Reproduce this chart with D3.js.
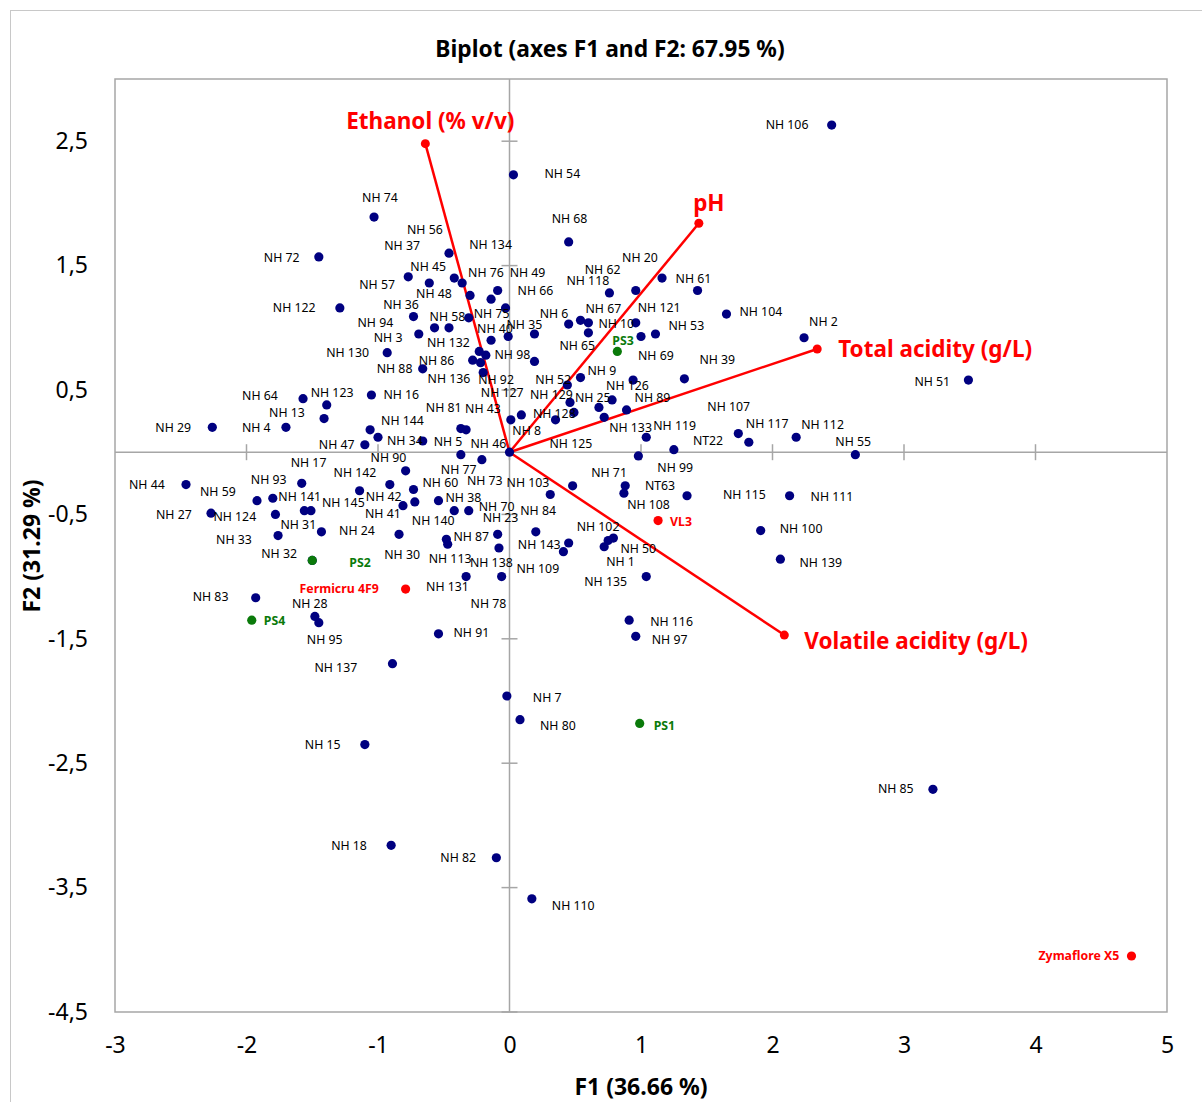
<!DOCTYPE html>
<html>
<head>
<meta charset="utf-8">
<script src="https://cdn.jsdelivr.net/npm/d3@7"></script>
<style>
  body { margin: 0; background: #fff; }
  svg { display: block; font-family: "Noto Sans", "DejaVu Sans", sans-serif; }
</style>
</head>
<body>
<script>
// observations: [name, F1, F2]
var observations = [
  ["NH 56", -0.46, 1.60], ["NH 57", -0.77, 1.41], ["NH 45", -0.61, 1.36], ["NH 37", -0.42, 1.40],
  ["NH 134", -0.36, 1.36], ["NH 48", -0.30, 1.26], ["NH 49", -0.09, 1.30], ["NH 76", -0.14, 1.23],
  ["NH 66", -0.03, 1.16], ["NH 94", -0.73, 1.09], ["NH 58", -0.57, 1.00], ["NH 132", -0.46, 1.00],
  ["NH 75", -0.31, 1.08], ["NH 3", -0.69, 0.95], ["NH 40", -0.14, 0.90], ["NH 36", -0.01, 0.93],
  ["NH 130", -0.93, 0.80], ["NH 86", -0.28, 0.74], ["NH 136", -0.22, 0.72], ["NH 88", -0.66, 0.67],
  ["NH 92", -0.20, 0.64], ["NH 29", -2.26, 0.20], ["NH 4", -1.70, 0.20], ["NH 64", -1.57, 0.43],
  ["NH 13", -1.41, 0.27], ["NH 123", -1.39, 0.38], ["NH 72", -1.45, 1.57], ["NH 122", -1.29, 1.16],
  ["NH 74", -1.03, 1.89], ["NH 16", -1.05, 0.46], ["NH 127", 0.01, 0.26], ["NH 144", -1.06, 0.18],
  ["NH 34", -1.00, 0.12], ["NH 81", -0.37, 0.19], ["NH 43", -0.33, 0.18], ["NH 47", -1.10, 0.06],
  ["NH 5", -0.66, 0.09], ["NH 46", 0.00, 0.00], ["NH 77", -0.37, -0.02], ["NH 73", -0.21, -0.06],
  ["NH 54", 0.03, 2.23], ["NH 68", 0.45, 1.69], ["NH 20", 1.16, 1.40], ["NH 61", 1.43, 1.30],
  ["NH 118", 0.76, 1.28], ["NH 62", 0.96, 1.30], ["NH 104", 1.65, 1.11], ["NH 6", 0.45, 1.03],
  ["NH 67", 0.54, 1.06], ["NH 10", 0.60, 1.04], ["NH 65", 0.60, 0.96], ["NH 121", 0.96, 1.04],
  ["NH 69", 1.00, 0.93], ["NH 53", 1.11, 0.95], ["NH 35", 0.19, 0.95], ["NH 98", 0.19, 0.73],
  ["NH 9", 0.54, 0.60], ["NH 39", 1.33, 0.59], ["NH 126", 0.94, 0.58], ["NH 52", 0.44, 0.54],
  ["NH 129", 0.46, 0.40], ["NH 128", 0.49, 0.32], ["NH 25", 0.68, 0.36], ["NH 133", 0.72, 0.28],
  ["NH 89", 0.89, 0.34], ["NH 125", 0.35, 0.26], ["NH 8", 0.09, 0.30], ["NH 119", 1.04, 0.12],
  ["NT22", 1.25, 0.02], ["NH 99", 0.98, -0.03], ["NH 106", 2.45, 2.63], ["NH 2", 2.24, 0.92],
  ["NH 51", 3.49, 0.58], ["NH 107", 1.74, 0.15], ["NH 117", 1.82, 0.08], ["NH 112", 2.18, 0.12],
  ["NH 55", 2.63, -0.02], ["NH 44", -2.46, -0.26], ["NH 59", -1.92, -0.39], ["NH 93", -1.80, -0.37],
  ["NH 17", -1.58, -0.25], ["NH 27", -2.27, -0.49], ["NH 124", -1.78, -0.50], ["NH 141", -1.56, -0.47],
  ["NH 145", -1.51, -0.47], ["NH 33", -1.76, -0.67], ["NH 31", -1.43, -0.64], ["NH 32", -1.50, -0.87],
  ["NH 83", -1.93, -1.17], ["NH 28", -1.48, -1.32], ["NH 95", -1.45, -1.37], ["NH 90", -0.79, -0.15],
  ["NH 42", -0.91, -0.26], ["NH 142", -1.14, -0.31], ["NH 60", -0.73, -0.30], ["NH 38", -0.54, -0.39],
  ["NH 41", -0.81, -0.43], ["NH 140", -0.72, -0.40], ["NH 30", -0.42, -0.47], ["NH 70", -0.31, -0.47],
  ["NH 24", -0.84, -0.66], ["NH 87", -0.48, -0.70], ["NH 113", -0.47, -0.74], ["NH 23", -0.09, -0.66],
  ["NH 138", -0.08, -0.77], ["NH 131", -0.33, -1.00], ["NH 78", -0.06, -1.00], ["NH 91", -0.54, -1.46],
  ["NH 137", -0.89, -1.70], ["NH 7", -0.02, -1.96], ["NH 80", 0.08, -2.15], ["NH 15", -1.10, -2.35],
  ["NH 18", -0.90, -3.16], ["NH 82", -0.10, -3.26], ["NH 110", 0.17, -3.59], ["NH 103", 0.48, -0.27],
  ["NH 84", 0.31, -0.34], ["NH 71", 0.88, -0.27], ["NT63", 0.87, -0.33], ["NH 115", 1.35, -0.35],
  ["NH 143", 0.20, -0.64], ["NH 102", 0.45, -0.73], ["NH 109", 0.41, -0.80], ["NH 50", 0.79, -0.69],
  ["NH 108", 0.75, -0.71], ["NH 1", 0.72, -0.76], ["NH 135", 1.04, -1.00], ["NH 116", 0.91, -1.35],
  ["NH 97", 0.96, -1.48], ["NH 111", 2.13, -0.35], ["NH 100", 1.91, -0.63], ["NH 139", 2.06, -0.86],
  ["NH 85", 3.22, -2.71]
];
// points whose label is not visible
var unlabeled = [[-0.23, 0.81], [-0.18, 0.78], [0.78, 0.42]];

var suppNames = ["PS1", "PS2", "PS3", "PS4"];
var suppF1 = [0.99, -1.50, 0.82, -1.96];
var suppF2 = [-2.18, -0.87, 0.81, -1.35];

var refNames = ["Fermicru 4F9", "VL3", "Zymaflore X5"];
var refF1 = [-0.79, 1.13, 4.73];
var refF2 = [-1.10, -0.55, -4.05];

var varNames = ["Ethanol (% v/v)", "pH", "Total acidity (g/L)", "Volatile acidity (g/L)"];
var varF1 = [-0.64, 1.44, 2.34, 2.09];
var varF2 = [2.48, 1.84, 0.83, -1.47];

var xTicks = [-3, -2, -1, 0, 1, 2, 3, 4, 5];
var yTicks = [-4.5, -3.5, -2.5, -1.5, -0.5, 0.5, 1.5, 2.5];

// label placement (pixels from point, left edge / vertical middle)
var labelOffset = {
  "NH 56": [-42,-24], "NH 57": [-49,8], "NH 45": [-19,-17], "NH 37": [-70,-33], "NH 134": [7,-39],
  "NH 48": [-54,-2], "NH 49": [12,-18], "NH 76": [-23,-27], "NH 66": [12,-17], "NH 94": [-56,6],
  "NH 58": [-5,-11], "NH 132": [-22,15], "NH 75": [5,-4], "NH 3": [-45,3], "NH 40": [-14,-12],
  "NH 36": [-125,-32], "NH 130": [-61,0], "NH 86": [-54,0], "NH 136": [-53,16], "NH 88": [-46,0],
  "NH 92": [-5,7], "NH 29": [-57,0], "NH 4": [-44,0], "NH 64": [-61,-3], "NH 13": [-55,-6],
  "NH 123": [-16,-12], "NH 72": [-55,1], "NH 122": [-67,0], "NH 74": [-12,-20], "NH 16": [12,0],
  "NH 127": [-30,-27], "NH 144": [11,-9], "NH 34": [9,3], "NH 81": [-35,-21], "NH 43": [-1,-21],
  "NH 47": [-46,0], "NH 5": [11,0], "NH 46": [-39,-9], "NH 77": [-20,15], "NH 73": [-15,21],
  "NH 54": [31,-1], "NH 68": [-17,-23], "NH 20": [-40,-21], "NH 61": [-22,-12], "NH 118": [-43,-12],
  "NH 62": [-51,-21], "NH 104": [13,-3], "NH 6": [-29,-11], "NH 67": [5,-12], "NH 10": [10,1],
  "NH 65": [-29,13], "NH 121": [2,-15], "NH 69": [-3,19], "NH 53": [13,-9], "NH 35": [-28,-10],
  "NH 98": [-40,-7], "NH 9": [7,-7], "NH 39": [15,-19], "NH 126": [-27,5], "NH 52": [-32,-6],
  "NH 129": [-40,-8], "NH 128": [-41,1], "NH 25": [-24,-10], "NH 133": [5,10], "NH 89": [8,-12],
  "NH 125": [-6,24], "NH 8": [-9,16], "NH 119": [7,-12], "NT22": [19,-9], "NH 99": [19,12],
  "NH 106": [-66,-1], "NH 2": [5,-16], "NH 51": [-54,1], "NH 107": [-31,-27], "NH 117": [-3,-19],
  "NH 112": [5,-13], "NH 55": [-20,-13], "NH 44": [-57,0], "NH 59": [-57,-9], "NH 93": [-22,-19],
  "NH 17": [-11,-21], "NH 27": [-55,1], "NH 124": [-62,2], "NH 141": [-26,-14], "NH 145": [11,-8],
  "NH 33": [-62,4], "NH 31": [-41,-7], "NH 32": [-51,-7], "NH 83": [-63,-1], "NH 28": [-23,-13],
  "NH 95": [-12,17], "NH 90": [-35,-13], "NH 42": [-24,12], "NH 142": [-26,-18], "NH 60": [9,-7],
  "NH 38": [7,-3], "NH 41": [-38,8], "NH 140": [-3,19], "NH 30": [-70,44], "NH 70": [10,-4],
  "NH 24": [-60,-4], "NH 87": [7,-3], "NH 113": [-19,14], "NH 23": [-15,-17], "NH 138": [-29,15],
  "NH 131": [-40,10], "NH 78": [-31,27], "NH 91": [15,-1], "NH 137": [-78,4], "NH 7": [26,1],
  "NH 80": [20,6], "NH 15": [-60,0], "NH 18": [-60,0], "NH 82": [-56,0], "NH 110": [20,7],
  "NH 103": [-66,-3], "NH 84": [-30,16], "NH 71": [-34,-13], "NT63": [21,-8], "NH 115": [36,-1],
  "NH 143": [-18,13], "NH 102": [8,-17], "NH 109": [-47,17], "NH 50": [7,10], "NH 108": [19,-36],
  "NH 1": [2,15], "NH 135": [-62,5], "NH 116": [21,1], "NH 97": [16,3], "NH 111": [21,1],
  "NH 100": [19,-2], "NH 139": [19,3], "NH 85": [-55,-1],
  "PS1": [14,2], "PS2": [37,2], "PS3": [-5,-11], "PS4": [12,0],
  "Fermicru 4F9": [-106,-1], "VL3": [12,1], "Zymaflore X5": [-93,-1]
};
var varLabelPos = [[5,-23,"middle"], [10,-21,"middle"], [21,0,"start"], [20,5,"start"]];

var W = 1202, H = 1102;
var plotL = 115, plotR = 1167, plotT = 79, plotB = 1012;
var navy = "#000080", green = "#0a7a0a", red = "#ff0000", grey = "#a6a6a6";

var svg = d3.select("body").append("svg")
    .attr("width", W).attr("height", H);

svg.append("rect").attr("x", 10.5).attr("y", 10.5)
    .attr("width", W).attr("height", H)
    .attr("fill", "#fff").attr("stroke", "#c8c8c8");

var x = d3.scaleLinear().domain([-3, 5]).range([plotL, plotR]);
var y = d3.scaleLinear().domain([-4.5, 3]).range([plotB, plotT]);

svg.append("text")
    .attr("x", 610).attr("y", 48)
    .attr("text-anchor", "middle").attr("dominant-baseline", "central")
    .style("font-size", "22.8px").style("font-weight", "bold")
    .text("Biplot (axes F1 and F2: 67.95 %)");

svg.append("rect")
    .attr("x", plotL).attr("y", plotT)
    .attr("width", plotR - plotL).attr("height", plotB - plotT)
    .attr("fill", "none").attr("stroke", grey).attr("stroke-width", 1.5);

// tick labels on frame
var fmt = function(d){ return String(d).replace(".", ","); };
var gx = svg.append("g").attr("transform", "translate(0," + plotB + ")")
    .call(d3.axisBottom(x).tickValues(xTicks).tickSize(0).tickPadding(25).tickFormat(fmt));
var gy = svg.append("g").attr("transform", "translate(" + plotL + ",0)")
    .call(d3.axisLeft(y).tickValues(yTicks).tickSize(0).tickPadding(27).tickFormat(fmt));
[gx, gy].forEach(function(g){
    g.select(".domain").remove();
    g.selectAll("text").attr("fill", "#000")
        .style("font-family", "'Noto Sans', sans-serif").style("font-size", "23px");
});

// zero axes with crossing ticks
svg.append("line").attr("x1", plotL).attr("x2", plotR)
    .attr("y1", y(0)).attr("y2", y(0))
    .attr("stroke", grey).attr("stroke-width", 1.5);
svg.append("line").attr("x1", x(0)).attr("x2", x(0))
    .attr("y1", plotT).attr("y2", plotB)
    .attr("stroke", grey).attr("stroke-width", 1.5);
svg.selectAll(".xt").data(xTicks.slice(1, -1)).enter().append("line")
    .attr("x1", function(d){ return x(d); }).attr("x2", function(d){ return x(d); })
    .attr("y1", y(0) - 8).attr("y2", y(0) + 8)
    .attr("stroke", grey).attr("stroke-width", 1.5);
svg.selectAll(".yt").data(yTicks).enter().append("line")
    .attr("x1", x(0) - 8).attr("x2", x(0) + 8)
    .attr("y1", function(d){ return y(d); }).attr("y2", function(d){ return y(d); })
    .attr("stroke", grey).attr("stroke-width", 1.5);

svg.append("text")
    .attr("x", 641).attr("y", 1086)
    .attr("text-anchor", "middle").attr("dominant-baseline", "central")
    .style("font-size", "23px").style("font-weight", "bold")
    .text("F1 (36.66 %)");
svg.append("text")
    .attr("transform", "translate(31,546) rotate(-90)")
    .attr("text-anchor", "middle").attr("dominant-baseline", "central")
    .style("font-size", "23px").style("font-weight", "bold")
    .text("F2 (31.29 %)");

// variable vectors
var vars = varNames.map(function(n, i){ return {name: n, f1: varF1[i], f2: varF2[i], pos: varLabelPos[i]}; });
svg.selectAll(".vec").data(vars).enter().append("line")
    .attr("x1", x(0)).attr("y1", y(0))
    .attr("x2", function(d){ return x(d.f1); }).attr("y2", function(d){ return y(d.f2); })
    .attr("stroke", red).attr("stroke-width", 2.5);
svg.selectAll(".vecend").data(vars).enter().append("circle")
    .attr("cx", function(d){ return x(d.f1); }).attr("cy", function(d){ return y(d.f2); })
    .attr("r", 4.5).attr("fill", red);
svg.selectAll(".veclab").data(vars).enter().append("text")
    .attr("x", function(d){ return x(d.f1) + d.pos[0]; })
    .attr("y", function(d){ return y(d.f2) + d.pos[1]; })
    .attr("text-anchor", function(d){ return d.pos[2]; })
    .attr("dominant-baseline", "central")
    .attr("fill", red).style("font-size", "22.5px").style("font-weight", "bold")
    .text(function(d){ return d.name; });

// observations
function drawPoints(data, color, bold, size){
    svg.selectAll(null).data(data).enter().append("circle")
        .attr("cx", function(d){ return x(d[1]); }).attr("cy", function(d){ return y(d[2]); })
        .attr("r", 4.6).attr("fill", color);
    svg.selectAll(null).data(data.filter(function(d){ return d[0]; })).enter().append("text")
        .attr("x", function(d){ return x(d[1]) + labelOffset[d[0]][0]; })
        .attr("y", function(d){ return y(d[2]) + labelOffset[d[0]][1]; })
        .attr("dominant-baseline", "central")
        .attr("fill", bold ? color : "#000")
        .style("font-size", size).style("font-weight", bold ? "bold" : "normal")
        .text(function(d){ return d[0]; });
}
drawPoints(unlabeled.map(function(d){ return ["", d[0], d[1]]; }), navy, false, "12.3px");
drawPoints(observations, navy, false, "12.3px");
drawPoints(suppNames.map(function(n, i){ return [n, suppF1[i], suppF2[i]]; }), green, true, "12.3px");
drawPoints(refNames.map(function(n, i){ return [n, refF1[i], refF2[i]]; }), red, true, "12.3px");
</script>
</body>
</html>
